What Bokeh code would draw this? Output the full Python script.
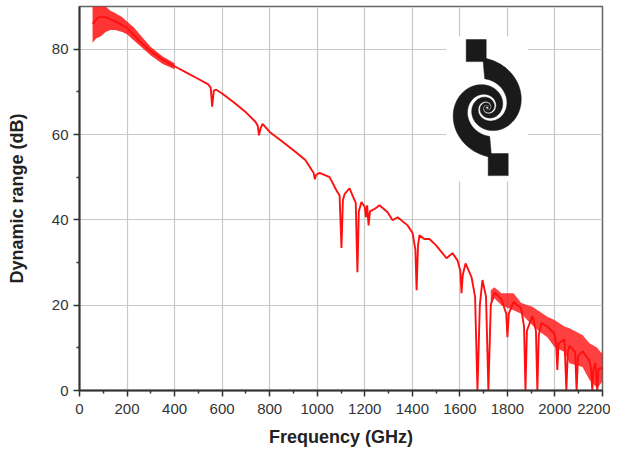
import math
from bokeh.plotting import figure
from bokeh.models import FixedTicker, Range1d
from bokeh.embed import file_html
from bokeh.resources import INLINE

# ---------------- data ----------------
freq_ghz = [55, 80, 110, 150, 200, 250, 300, 350, 400, 450, 500, 540, 552, 558, 565, 575,
            600, 650, 700, 740, 750, 755, 762, 770, 800, 850, 900, 950, 985, 990, 995, 1010,
            1052, 1080, 1094, 1102, 1108, 1115, 1136, 1150, 1162, 1169, 1175, 1186, 1200,
            1205, 1210, 1216, 1222, 1240, 1262, 1296, 1317, 1338, 1380, 1401, 1413, 1418,
            1424, 1430, 1450, 1472, 1500, 1544, 1569, 1590, 1602, 1607, 1612, 1624, 1649,
            1664, 1674, 1684, 1695, 1710, 1720, 1730, 1745, 1775, 1795, 1800, 1806, 1826,
            1858, 1870, 1876, 1882, 1905, 1920, 1926, 1932, 1943, 1968, 1998, 2005, 2010,
            2015, 2040, 2048, 2054, 2061, 2085, 2091, 2097, 2116, 2145, 2152, 2157, 2162,
            2170, 2178, 2183, 2195, 2200]
range_db = [86, 87.5, 87.5, 86.5, 85, 82, 79.5, 77.5, 76, 74.5, 73, 71.8, 71, 66.5, 70.3, 70.5,
            69.6, 67.5, 65.2, 63, 62, 59.8, 61.5, 62.5, 60.6, 58.5, 56.3, 54, 51, 49.5, 50.5, 51,
            50, 47, 45.7, 33.4, 44.6, 46, 47.4, 45.5, 44, 27.7, 42, 44.2, 43,
            40.6, 43.4, 38.7, 42, 42.5, 43.4, 41.8, 39.9, 40.6, 38.7, 36.9, 33, 23.5,
            34, 36.4, 35.5, 35.5, 34, 31, 32.2, 30.5, 28, 22.8, 27, 29.8, 26.6,
            22, 0, 20, 25.9, 22, 0, 20, 23, 21.4, 18, 12.5, 18, 20.8,
            19.2, 15, 0, 14, 17.5, 14, 0, 13, 15.8, 15, 13.3, 11, 4.8,
            11, 12, 0, 9, 10.5, 9, 0, 8, 9.2, 7, 5, 0, 5,
            6.5, 0, 5, 5.3, 5]

# noise envelope, low-frequency part
early_band_freq = [55, 70, 90, 110, 130, 150, 180, 200, 230, 260, 300, 350, 400]
early_band_low = [81.5, 82.5, 83, 84, 84.5, 84.5, 84, 83.5, 82, 80.5, 78.5, 76.5, 75.3]
early_band_high = [90, 90, 90, 90, 89, 88.5, 87.5, 86.5, 85, 83, 80.5, 78.3, 76.7]

# noise envelope, high-frequency part
late_band_freq = [1730, 1745, 1775, 1826, 1858, 1905, 1943, 1968, 1998, 2040, 2061, 2116,
                  2145, 2178, 2195, 2200]
late_band_low = [20, 21.6, 20, 18.8, 18, 15.3, 13.5, 12.5, 10.2, 9, 6.4, 5.5, 2.5, 0.5, 1.8, 2]
late_band_high = [23.5, 24.2, 22.8, 22.8, 20.5, 19.6, 18.2, 17.3, 16.5, 15, 14.6, 13, 11.1,
                  10, 8.8, 9]

x_ticks = [0, 200, 400, 600, 800, 1000, 1200, 1400, 1600, 1800, 2000, 2200]
x_minor = [100, 300, 500, 700, 900, 1100, 1300, 1500, 1700, 1900, 2100]
y_ticks = [0, 20, 40, 60, 80]
y_minor = [10, 30, 50, 70]

# ---------------- figure ----------------
FW, FH = 523, 384
XMAX, YMAX = 2200, 90
FONT = "Liberation Sans"
RED = "#ff1010"

p = figure(frame_width=FW, frame_height=FH,
           x_range=Range1d(0, XMAX), y_range=Range1d(0, YMAX),
           output_backend="svg", toolbar_location=None,
           min_border_left=79, min_border_right=8, min_border_top=6, min_border_bottom=0)
p.background_fill_color = "white"
p.border_fill_color = "white"
p.outline_line_color = "#666666"
p.outline_line_width = 1.5

p.xaxis.ticker = FixedTicker(ticks=x_ticks, minor_ticks=x_minor)
p.yaxis.ticker = FixedTicker(ticks=y_ticks, minor_ticks=y_minor)
p.xaxis.axis_label = "Frequency (GHz)"
p.yaxis.axis_label = "Dynamic range (dB)"
for ax in (p.xaxis, p.yaxis):
    ax.axis_label_text_font = FONT
    ax.axis_label_text_font_style = "bold"
    ax.axis_label_text_font_size = "18px"
    ax.axis_label_text_color = "#222222"
    ax.major_label_text_font = FONT
    ax.major_label_text_font_size = "15px"
    ax.major_label_text_color = "#333333"
    ax.axis_line_color = "#333333"
    ax.axis_line_width = 2
    ax.major_tick_line_color = "#333333"
    ax.major_tick_line_width = 1.5
    ax.minor_tick_line_color = "#333333"
    ax.minor_tick_line_width = 1.5
    ax.major_tick_in = 0
    ax.minor_tick_in = 0
    ax.major_tick_out = 6
    ax.minor_tick_out = 3
p.xaxis.major_label_standoff = 7
p.xaxis.axis_label_standoff = 10
p.yaxis.major_label_standoff = 5
p.yaxis.axis_label_standoff = 22

p.xgrid.ticker = FixedTicker(ticks=x_ticks)
p.ygrid.ticker = FixedTicker(ticks=y_ticks)
p.grid.grid_line_color = "#c8c8c8"
p.grid.grid_line_width = 1.2

# ---------------- spiral antenna logo (decoration) ----------------
gx = XMAX / FW   # data units per pixel
gy = YMAX / FH
LOGO_CX, LOGO_CY = 1715, 66.3


def to_data(pts):
    return ([LOGO_CX + x * gx for x, _ in pts], [LOGO_CY + y * gy for _, y in pts])


# white backing that interrupts the grid
bx, by = to_data([(-41, -74), (41, 71)])
p.quad(left=bx[0], right=bx[1], bottom=by[0], top=by[1], fill_color="white", line_color=None)


def arm(rot):
    k, r0, ratio = 0.25, 33.0, 0.58
    t_end = math.radians(95)
    t_min = -12.5
    n = 400
    ts = [t_min + (t_end - t_min) * i / n for i in range(n + 1)]
    outer = [(r0 * math.exp(k * t) * math.cos(t + rot), r0 * math.exp(k * t) * math.sin(t + rot)) for t in ts]
    inner = [(ratio * r0 * math.exp(k * t) * math.cos(t + rot), ratio * r0 * math.exp(k * t) * math.sin(t + rot)) for t in reversed(ts)]
    return outer + inner


def pad(sign):
    pts = [(-21, 46), (-1, 46), (-1, 68), (-21, 68)]
    return [(sign * x, sign * y) for x, y in pts]


xs, ys = [], []
for shape in (arm(0.0), arm(math.pi), pad(1), pad(-1)):
    a, b = to_data(shape)
    xs.append(a)
    ys.append(b)
p.patches(xs, ys, fill_color="#1a1a1a", line_color="#1a1a1a", line_width=0.5)

# ---------------- data marks ----------------
p.varea(x=early_band_freq, y1=early_band_low, y2=early_band_high, fill_color=RED, fill_alpha=0.85)
p.varea(x=late_band_freq, y1=late_band_low, y2=late_band_high, fill_color=RED, fill_alpha=0.8)
p.line(freq_ghz, range_db, line_color=RED, line_width=1.9)

open("out.html", "w").write(file_html(p, INLINE))
